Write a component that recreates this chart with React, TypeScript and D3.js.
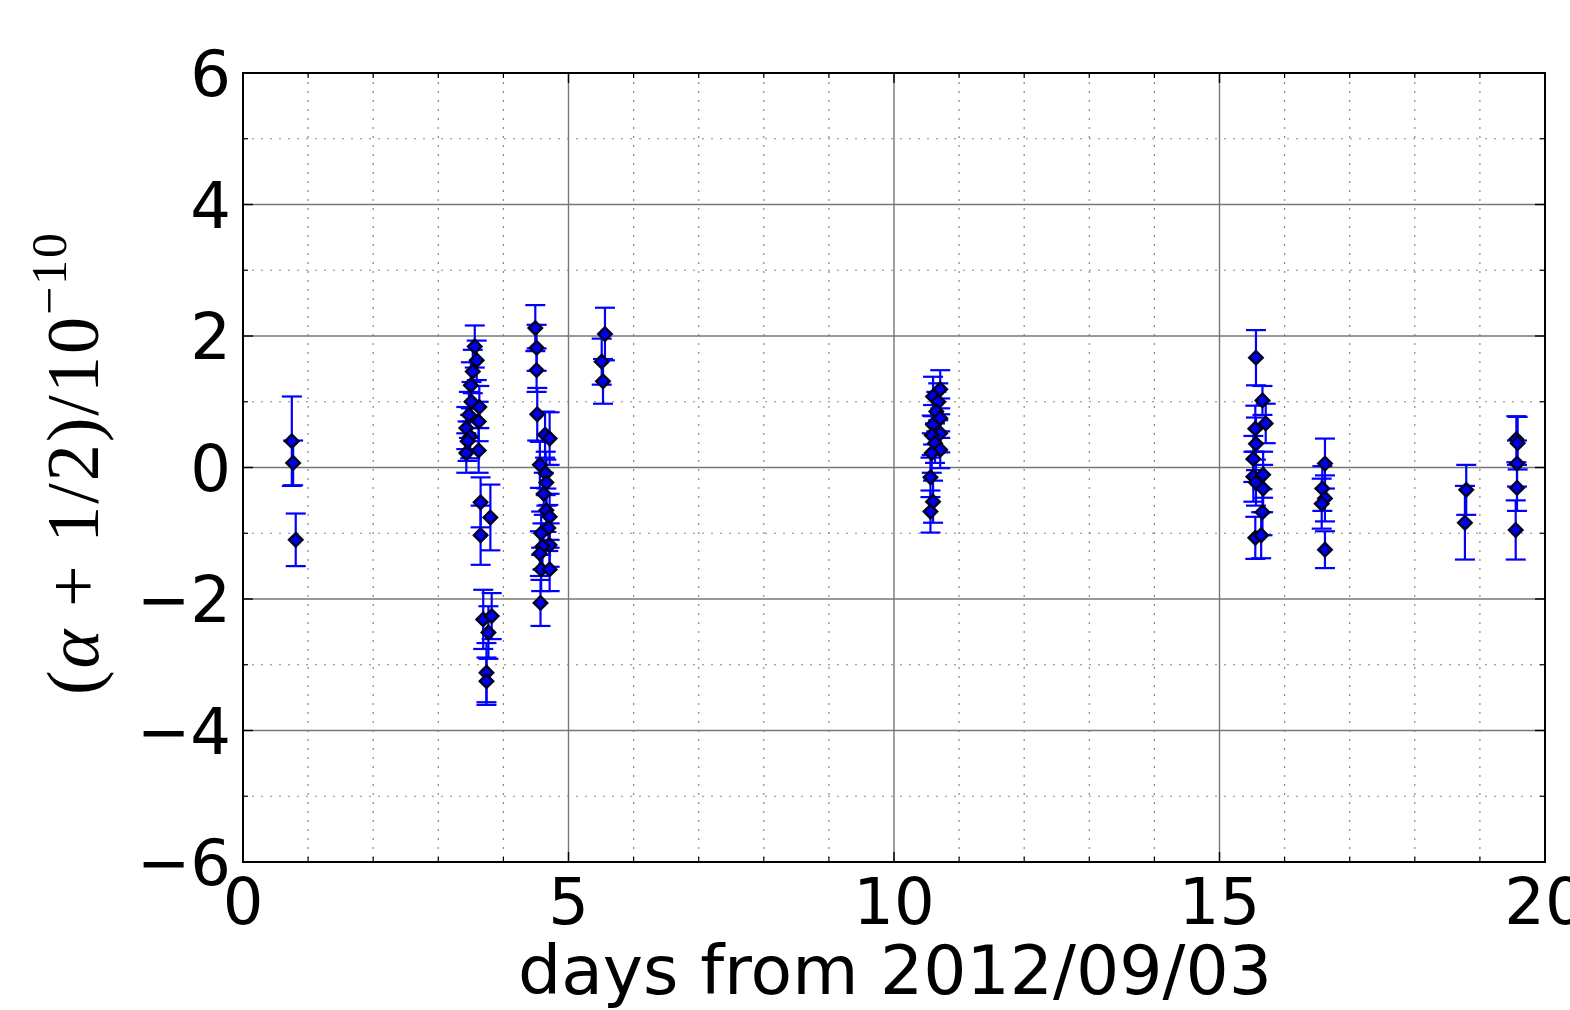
import * as d3 from "d3";

// days from 2012/09/03, value (alpha + 1/2)/1e-10, error
const days = [
  0.75, 0.77, 0.81,
  3.56, 3.59, 3.53, 3.50, 3.51, 3.63, 3.47, 3.62, 3.43, 3.49, 3.45, 3.43, 3.62,
  3.65, 3.80, 3.65,
  3.69, 3.82, 3.77, 3.74, 3.74,
  4.49, 4.51, 4.51, 4.52, 4.64, 4.71, 4.56, 4.65, 4.66, 4.62, 4.66, 4.71, 4.69, 4.58, 4.71, 4.60, 4.56, 4.58, 4.71, 4.57,
  5.56, 5.51, 5.53,
  10.71, 10.60, 10.68, 10.65, 10.71, 10.60, 10.71, 10.58, 10.63, 10.71, 10.58, 10.56, 10.60, 10.56,
  15.56, 15.66, 15.71, 15.55, 15.56, 15.52, 15.52, 15.56, 15.67, 15.67, 15.66, 15.55, 15.64,
  16.62, 16.58, 16.62, 16.57, 16.62,
  18.79, 18.77,
  19.56, 19.58, 19.57, 19.57, 19.55,
];
const alphas = [
  0.40, 0.07, -1.10,
  1.84, 1.63, 1.46, 1.25, 1.00, 0.92, 0.80, 0.70, 0.60, 0.47, 0.40, 0.22, 0.26,
  -0.53, -0.76, -1.03,
  -2.31, -2.26, -2.51, -3.12, -3.25,
  2.12, 1.82, 1.48, 0.81, 0.50, 0.44, 0.04, -0.09, -0.23, -0.40, -0.65, -0.75, -0.92, -1.00, -1.18, -1.20, -1.31, -1.55, -1.55, -2.06,
  2.03, 1.61, 1.31,
  1.19, 1.08, 1.00, 0.85, 0.75, 0.65, 0.52, 0.49, 0.37, 0.27, 0.22, -0.15, -0.52, -0.67,
  1.67, 1.02, 0.67, 0.59, 0.36, 0.13, -0.14, -0.23, -0.11, -0.32, -0.68, -1.07, -1.03,
  0.06, -0.32, -0.47, -0.55, -1.25,
  -0.34, -0.84,
  0.43, 0.37, 0.06, -0.31, -0.95,
];
const errors = [
  0.68, 0.34, 0.40,
  0.32, 0.30, 0.33, 0.35, 0.30, 0.32, 0.35, 0.30, 0.32, 0.33, 0.30, 0.30, 0.34,
  0.38, 0.50, 0.45,
  0.45, 0.35, 0.40, 0.45, 0.36,
  0.35, 0.35, 0.33, 0.40, 0.35, 0.40, 0.35, 0.33, 0.35, 0.32, 0.33, 0.35, 0.35, 0.33, 0.33, 0.35, 0.34, 0.33, 0.33, 0.35,
  0.40, 0.35, 0.34,
  0.29, 0.30, 0.28, 0.30, 0.30, 0.30, 0.29, 0.30, 0.30, 0.28, 0.30, 0.30, 0.32, 0.32,
  0.42, 0.22, 0.30, 0.35, 0.40, 0.35, 0.38, 0.35, 0.35, 0.36, 0.35, 0.32, 0.35,
  0.38, 0.34, 0.35, 0.38, 0.28,
  0.38, 0.56,
  0.35, 0.40, 0.35, 0.35, 0.45,
];

const xMajor = [0, 5, 10, 15, 20];
const yMajor = [-6, -4, -2, 0, 2, 4, 6];
const xMinor = d3.range(0, 21, 1).filter((v) => v % 5 !== 0);
const yMinor = [-5, -3, -1, 1, 3, 5];

const W = 1570;
const H = 1010;
const left = 243;
const right = 1545;
const top = 73;
const bottom = 862;

export default function App() {
  const x = d3.scaleLinear().domain([0, 20]).range([left, right]);
  const y = d3.scaleLinear().domain([-6, 6]).range([bottom, top]);
  const pts = days.map((d, i) => ({ d, a: alphas[i], e: errors[i] }));
  const fmt = (v: number) => (v < 0 ? "\u2212" + Math.abs(v) : String(v));
  const font = "'DejaVu Sans', sans-serif";
  const diamond = d3.symbol(d3.symbolDiamond2, 115)() as string;

  return (
    <svg
      width={W}
      height={H}
      style={{ position: "absolute", left: 0, top: 0, background: "#fff" }}
    >
      {/* minor grid */}
      {xMinor.map((v) => (
        <line key={"xm" + v} x1={x(v)} x2={x(v)} y1={top} y2={bottom}
          stroke="#888" strokeWidth={1.2} strokeDasharray="2,7" />
      ))}
      {yMinor.map((v) => (
        <line key={"ym" + v} x1={left} x2={right} y1={y(v)} y2={y(v)}
          stroke="#888" strokeWidth={1.2} strokeDasharray="2,7" />
      ))}
      {/* major grid */}
      {xMajor.map((v) => (
        <line key={"xM" + v} x1={x(v)} x2={x(v)} y1={top} y2={bottom}
          stroke="#777" strokeWidth={1.4} />
      ))}
      {yMajor.map((v) => (
        <line key={"yM" + v} x1={left} x2={right} y1={y(v)} y2={y(v)}
          stroke="#777" strokeWidth={1.4} />
      ))}

      {/* ticks (inward) */}
      {xMinor.map((v) => (
        <g key={"xtm" + v} stroke="#000" strokeWidth={1.2}>
          <line x1={x(v)} x2={x(v)} y1={bottom} y2={bottom - 5} />
          <line x1={x(v)} x2={x(v)} y1={top} y2={top + 5} />
        </g>
      ))}
      {yMinor.map((v) => (
        <g key={"ytm" + v} stroke="#000" strokeWidth={1.2}>
          <line x1={left} x2={left + 5} y1={y(v)} y2={y(v)} />
          <line x1={right} x2={right - 5} y1={y(v)} y2={y(v)} />
        </g>
      ))}
      {xMajor.map((v) => (
        <g key={"xtM" + v} stroke="#000" strokeWidth={1.4}>
          <line x1={x(v)} x2={x(v)} y1={bottom} y2={bottom - 10} />
          <line x1={x(v)} x2={x(v)} y1={top} y2={top + 10} />
        </g>
      ))}
      {yMajor.map((v) => (
        <g key={"ytM" + v} stroke="#000" strokeWidth={1.4}>
          <line x1={left} x2={left + 10} y1={y(v)} y2={y(v)} />
          <line x1={right} x2={right - 10} y1={y(v)} y2={y(v)} />
        </g>
      ))}

      {/* error bars */}
      {pts.map((p, i) => (
        <g key={"e" + i} stroke="#0000ff" strokeWidth={2.2}>
          <line x1={x(p.d)} x2={x(p.d)} y1={y(p.a - p.e)} y2={y(p.a + p.e)} />
          <line x1={x(p.d) - 10} x2={x(p.d) + 10} y1={y(p.a - p.e)} y2={y(p.a - p.e)} />
          <line x1={x(p.d) - 10} x2={x(p.d) + 10} y1={y(p.a + p.e)} y2={y(p.a + p.e)} />
        </g>
      ))}
      {/* markers */}
      {pts.map((p, i) => (
        <path key={"m" + i} d={diamond}
          transform={`translate(${x(p.d)},${y(p.a)})`}
          fill="#0000ee" stroke="#000022" strokeWidth={2.4} />
      ))}

      {/* frame */}
      <rect x={left} y={top} width={right - left} height={bottom - top}
        fill="none" stroke="#000" strokeWidth={2} />

      {/* tick labels */}
      {xMajor.map((v) => (
        <text key={"xl" + v} x={x(v)} y={bottom + 62} textAnchor="middle"
          fontFamily={font} fontSize={64} fill="#000">{v}</text>
      ))}
      {yMajor.map((v) => (
        <text key={"yl" + v} x={left - 12} y={y(v) + 23} textAnchor="end"
          fontFamily={font} fontSize={64} fill="#000">{fmt(v)}</text>
      ))}

      {/* axis labels */}
      <text x={895} y={994} textAnchor="middle"
        fontFamily={font} fontSize={68} fill="#000">days from 2012/09/03</text>
      <text transform="translate(98,463) rotate(-90)" textAnchor="middle"
        fontFamily="'Liberation Serif', serif" fontSize={74} fill="#000"
        letterSpacing={2}>
        <tspan>(</tspan>
        <tspan fontStyle="italic">α</tspan>
        <tspan> + 1/2)/10</tspan>
        <tspan dy={-32} fontSize={50}>−10</tspan>
      </text>
    </svg>
  );
}
